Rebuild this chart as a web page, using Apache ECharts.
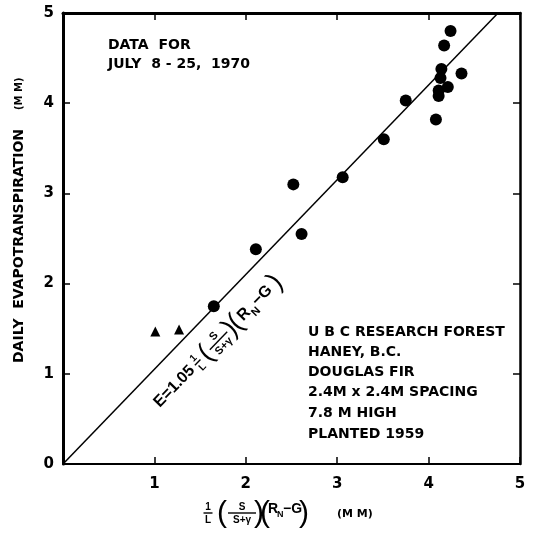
<!DOCTYPE html>
<html>
<head>
<meta charset="utf-8">
<script src="https://cdn.jsdelivr.net/npm/echarts@6/dist/echarts.min.js"></script>
<style>
html, body { margin: 0; padding: 0; background: #fff; }
#main { width: 535px; height: 533px; }
</style>
</head>
<body>
<div id="main"></div>
<script>
// daily ET (mm) against 1/L (s/(s+g))(Rn-G) (mm), july 8-25 1970
var circX = [1.65, 2.11, 2.52, 2.61, 3.06, 3.51, 3.75, 4.08, 4.11, 4.11, 4.14, 4.13, 4.17, 4.21, 4.24, 4.36];
var circY = [1.75, 2.38, 3.10, 2.55, 3.18, 3.60, 4.03, 3.82, 4.08, 4.14, 4.38, 4.28, 4.64, 4.18, 4.80, 4.33];
var triX = [1.01, 1.27];
var triY = [1.47, 1.49];
// E = 1.05 x
var fitX = [0, 4.76];
var fitY = [0, 5];
var xTicks = [1, 2, 3, 4, 5];
var yTicks = [0, 1, 2, 3, 4, 5];

var FONT = '"DejaVu Sans", sans-serif';
var NARROW = '"Liberation Sans", Arial, sans-serif';

function pairs(xs, ys) {
    return xs.map(function (x, i) { return [x, ys[i]]; });
}

function txt(x, y, s, size, align, fam, weight) {
    return {
        type: 'text', x: x, y: y, silent: true,
        style: {
            text: s, font: (weight || 'bold') + ' ' + size + 'px ' + (fam || FONT), fill: '#000',
            textAlign: align || 'left', textVerticalAlign: 'middle',
            align: align || 'left', verticalAlign: 'middle'
        }
    };
}

function paren(x, y, s, size) {
    return txt(x, y, s, size, 'center', NARROW, 'normal');
}

function bar(x1, x2, y) {
    return { type: 'line', silent: true, shape: { x1: x1, y1: y, x2: x2, y2: y }, style: { stroke: '#000', lineWidth: 1.4 } };
}

function frac(cx, cy, num, den, size, w) {
    return [
        txt(cx, cy - size * 0.6, num, size, 'center', NARROW),
        bar(cx - w / 2, cx + w / 2, cy),
        txt(cx, cy + size * 0.7, den, size, 'center', NARROW)
    ];
}

// x axis title
var xTitle = [].concat(
    frac(208, 513, '1', 'L', 10, 9),
    [paren(222, 514, '(', 30)],
    frac(242, 513, 'S', 'S+γ', 10, 28),
    [paren(259, 514, ')', 30),
     paren(265, 514, '(', 30),
     txt(268, 509, 'R', 14, 'left', NARROW),
     txt(277, 515, 'N', 9, 'left', NARROW),
     txt(283, 509, '−G', 14, 'left', NARROW),
     paren(304, 514, ')', 30),
     txt(337, 514, '(M M)', 11)]
);

// equation written along the line
var eqn = [].concat(
    [txt(0, -6, 'E=1.05', 16, 'left', NARROW)],
    frac(59, -6, '1', 'L', 10, 8),
    [paren(71, -6, '(', 27)],
    frac(89, -6, 'S', 'S+γ', 11, 25),
    [paren(106, -6, ')', 27),
     paren(114, -6, '(', 27),
     txt(120, -6, 'R', 16, 'left', NARROW),
     txt(132, 1, 'N', 11, 'left', NARROW),
     txt(141, -6, '−G', 16, 'left', NARROW),
     paren(171, -6, ')', 27)]
);

var site = ['U B C RESEARCH FOREST', 'HANEY, B.C.', 'DOUGLAS FIR', '2.4M x 2.4M SPACING', '7.8 M HIGH', 'PLANTED 1959'];
var siteY = [332, 352, 372, 392, 413, 434];

var chart = echarts.init(document.getElementById('main'));

var axisFont = { fontFamily: FONT, fontWeight: 'bold', fontSize: 15, color: '#000' };

chart.setOption({
    animation: false,
    backgroundColor: '#fff',
    grid: { left: 63, right: 15, top: 13, bottom: 69 },
    xAxis: [{
        type: 'value', min: 0, max: 5, interval: 1, position: 'bottom',
        axisLine: { onZero: false, lineStyle: { color: '#000', width: 2 } },
        axisTick: { inside: true, length: 7, lineStyle: { color: '#000', width: 1.5 } },
        axisLabel: Object.assign({ margin: 13, formatter: function (v) { return xTicks.indexOf(v) >= 0 ? String(v) : ''; } }, axisFont),
        splitLine: { show: false }
    }, {
        type: 'value', min: 0, max: 5, interval: 1, position: 'top',
        axisLine: { onZero: false, lineStyle: { color: '#000', width: 3 } },
        axisTick: { inside: true, length: 7, lineStyle: { color: '#000', width: 1.5 } },
        axisLabel: { show: false },
        splitLine: { show: false }
    }],
    yAxis: [{
        type: 'value', min: 0, max: 5, interval: 1, position: 'left',
        axisLine: { onZero: false, lineStyle: { color: '#000', width: 3 } },
        axisTick: { inside: true, length: 7, lineStyle: { color: '#000', width: 1.5 } },
        axisLabel: Object.assign({ margin: 9, formatter: function (v) { return yTicks.indexOf(v) >= 0 ? String(v) : ''; } }, axisFont),
        splitLine: { show: false }
    }, {
        type: 'value', min: 0, max: 5, interval: 1, position: 'right',
        axisLine: { onZero: false, lineStyle: { color: '#000', width: 2.5 } },
        axisTick: { inside: true, length: 7, lineStyle: { color: '#000', width: 1.5 } },
        axisLabel: { show: false },
        splitLine: { show: false }
    }],
    series: [{
        type: 'line', data: pairs(fitX, fitY), symbol: 'none', silent: true,
        lineStyle: { color: '#000', width: 1.5 }, z: 1
    }, {
        type: 'scatter', data: pairs(circX, circY), symbol: 'circle', symbolSize: 12,
        itemStyle: { color: '#000', opacity: 1 }, z: 3
    }, {
        type: 'scatter', data: pairs(triX, triY), symbol: 'triangle', symbolSize: 10,
        itemStyle: { color: '#000', opacity: 1 }, z: 3
    }],
    graphic: [
        { type: 'group', x: 19, y: 222, rotation: Math.PI / 2, children: [
            txt(-141, 0, 'DAILY  EVAPOTRANSPIRATION', 14),
            txt(112, 0, '(M M)', 10)
        ] },
        { type: 'group', children: xTitle },
        { type: 'group', x: 161, y: 409, rotation: 46 * Math.PI / 180, children: eqn },
        txt(108, 45, 'DATA  FOR', 14),
        txt(108, 64, 'JULY  8 - 25,  1970', 14)
    ].concat(site.map(function (s, i) { return txt(308, siteY[i], s, 14); }))
});
</script>
</body>
</html>
